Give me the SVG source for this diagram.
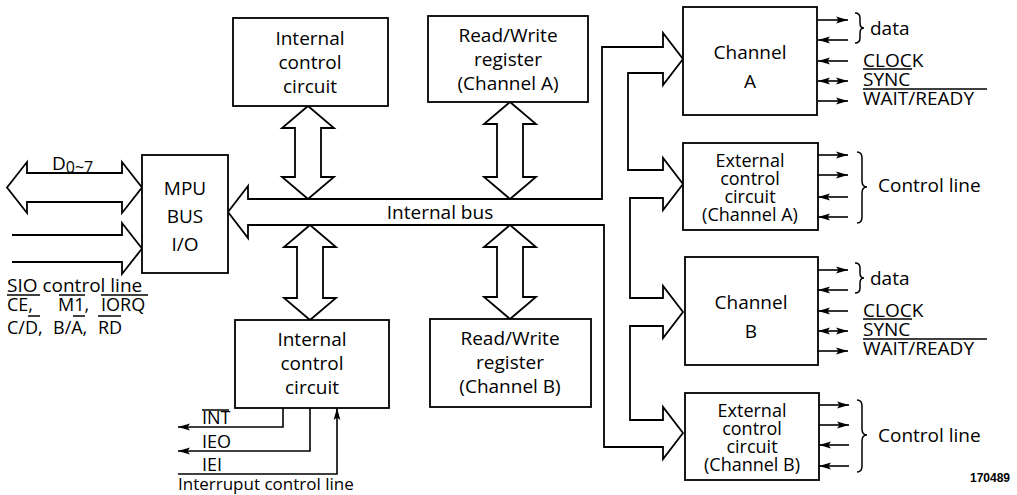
<svg xmlns="http://www.w3.org/2000/svg" width="1017" height="495" viewBox="0 0 1017 495">
<style>
text{font-family:"Open Sans","DejaVu Sans",sans-serif;font-size:19px;fill:#000}
.c{text-anchor:middle}
.s{font-size:18px}
.box{fill:#fff;stroke:#000;stroke-width:1.8}
.hol{fill:#fff;stroke:#000;stroke-width:1.8;stroke-linejoin:miter}
.ln{fill:none;stroke:#000;stroke-width:1.6}
.ol{stroke:#000;stroke-width:1.5}
.br{fill:none;stroke:#000;stroke-width:1.5}
</style>
<defs>
<marker id="ah" viewBox="0 0 12 8" refX="12" refY="4" markerWidth="12" markerHeight="8" markerUnits="userSpaceOnUse" orient="auto-start-reverse"><path d="M0,0.6 L12,4 L0,7.4 L2.5,4 Z" fill="#000"/></marker>
</defs>

<g id="connectors">
  <path class="hol" d="M248,186 L228,212 L248,238 L248,225 L604,225 L604,447 L663,447 L663,459 L683,433 L663,407 L663,420 L630,420 L630,326 L663,326 L663,338 L683,312 L663,286 L663,298 L630,298 L630,198 L663,198 L663,210 L683,184 L663,158 L663,170 L628,170 L628,73 L663,73 L663,85 L683,59 L663,33 L663,47 L602,47 L602,199 L248,199 Z"/>
  <text x="440" y="219" class="c">Internal bus</text>
  <path class="hol" d="M308,106 L334,128 L321,128 L321,177 L334,177 L308,199 L282,177 L295,177 L295,128 L282,128 Z"/>
  <path class="hol" d="M510,102 L536,124 L523,124 L523,177 L536,177 L510,199 L484,177 L497,177 L497,124 L484,124 Z"/>
  <path class="hol" d="M310,225 L336,247 L323,247 L323,298 L336,298 L310,320 L284,298 L297,298 L297,247 L284,247 Z"/>
  <path class="hol" d="M510,225 L536,247 L523,247 L523,297 L536,297 L510,319 L484,297 L497,297 L497,247 L484,247 Z"/>
  <path class="hol" d="M7,187.5 L27,162 L27,173 L122,173 L122,162 L142,187.5 L122,213 L122,202 L27,202 L27,213 Z"/>
  <path class="hol" d="M12,235 L122,235 L122,223 L142,248.5 L122,274 L122,262 L12,262"/>
  <path class="ln" d="M283,408 L283,427 L178,427" marker-end="url(#ah)"/>
  <path class="ln" d="M310,408 L310,451 L178,451" marker-end="url(#ah)"/>
  <path class="ln" d="M178,474 L337,474 L337,408" marker-end="url(#ah)"/>
  <line class="ln" x1="818" y1="20" x2="848" y2="20" marker-end="url(#ah)"/>
  <line class="ln" x1="848" y1="40" x2="818" y2="40" marker-end="url(#ah)"/>
  <line class="ln" x1="848" y1="61" x2="818" y2="61" marker-end="url(#ah)"/>
  <line class="ln" x1="818" y1="81" x2="848" y2="81" marker-start="url(#ah)" marker-end="url(#ah)"/>
  <line class="ln" x1="818" y1="101" x2="848" y2="101" marker-end="url(#ah)"/>
  <line class="ln" x1="818" y1="155" x2="848" y2="155" marker-end="url(#ah)"/>
  <line class="ln" x1="818" y1="175" x2="848" y2="175" marker-end="url(#ah)"/>
  <line class="ln" x1="848" y1="197" x2="818" y2="197" marker-end="url(#ah)"/>
  <line class="ln" x1="848" y1="217" x2="818" y2="217" marker-end="url(#ah)"/>
  <line class="ln" x1="818" y1="270" x2="848" y2="270" marker-end="url(#ah)"/>
  <line class="ln" x1="848" y1="290" x2="818" y2="290" marker-end="url(#ah)"/>
  <line class="ln" x1="848" y1="311" x2="818" y2="311" marker-end="url(#ah)"/>
  <line class="ln" x1="818" y1="331" x2="848" y2="331" marker-start="url(#ah)" marker-end="url(#ah)"/>
  <line class="ln" x1="818" y1="351" x2="848" y2="351" marker-end="url(#ah)"/>
  <line class="ln" x1="819" y1="405" x2="849" y2="405" marker-end="url(#ah)"/>
  <line class="ln" x1="819" y1="425" x2="849" y2="425" marker-end="url(#ah)"/>
  <line class="ln" x1="849" y1="445" x2="819" y2="445" marker-end="url(#ah)"/>
  <line class="ln" x1="849" y1="466" x2="819" y2="466" marker-end="url(#ah)"/>
  <path class="br" d="M855,13 q5,0 5,5 L860,23 q0,5 4,5 q-4,0 -4,5 L860,38 q0,5 -5,5"/>
  <path class="br" d="M855,263 q5,0 5,5 L860,273 q0,5 4,5 q-4,0 -4,5 L860,288 q0,5 -5,5"/>
  <path class="br" d="M857,152 q5,0 5,6 L862,181 q0,6 5,6 q-5,0 -5,6 L862,217 q0,6 -5,6"/>
  <path class="br" d="M857,400 q5,0 5,6 L862,429 q0,6 5,6 q-5,0 -5,6 L862,466 q0,6 -5,6"/>
</g>

<g id="mpu-bus-io">
  <rect class="box" x="142" y="155" width="86" height="118"/>
  <text x="185" y="195" class="c">MPU</text>
  <text x="185" y="223" class="c">BUS</text>
  <text x="185" y="251" class="c">I/O</text>
</g>

<g id="data-label">
  <text x="52" y="170">D<tspan font-size="16" dy="3">0~7</tspan></text>
</g>

<g id="sio-label">
  <text x="7" y="292">SIO control line</text>
  <text x="7" y="311" class="s">CE,</text>
  <text x="58" y="311" class="s">M1,</text>
  <text x="101" y="311" class="s">IORQ</text>
  <text x="7" y="334" class="s">C/D,</text>
  <text x="53" y="334" class="s">B/A,</text>
  <text x="98" y="334" class="s">RD</text>
  <line class="ol" x1="7" y1="295" x2="40" y2="295"/>
  <line class="ol" x1="59" y1="295" x2="85" y2="295"/>
  <line class="ol" x1="101" y1="295" x2="148" y2="295"/>
  <line class="ol" x1="28" y1="316" x2="40" y2="316"/>
  <line class="ol" x1="73" y1="316" x2="85" y2="316"/>
  <line class="ol" x1="98" y1="316" x2="121" y2="316"/>
</g>

<g id="internal-control-top">
  <rect class="box" x="233" y="18" width="155" height="88"/>
  <text x="310" y="45" class="c">Internal</text>
  <text x="310" y="69" class="c">control</text>
  <text x="310" y="93" class="c">circuit</text>
</g>

<g id="rw-register-a">
  <rect class="box" x="428" y="16" width="160" height="86"/>
  <text x="508" y="42" class="c">Read/Write</text>
  <text x="508" y="66" class="c">register</text>
  <text x="508" y="90" class="c">(Channel A)</text>
</g>

<g id="internal-control-bottom">
  <rect class="box" x="235" y="320" width="154" height="88"/>
  <text x="312" y="346" class="c">Internal</text>
  <text x="312" y="370" class="c">control</text>
  <text x="312" y="394" class="c">circuit</text>
</g>

<g id="rw-register-b">
  <rect class="box" x="430" y="319" width="161" height="88"/>
  <text x="510" y="345" class="c">Read/Write</text>
  <text x="510" y="369" class="c">register</text>
  <text x="510" y="393" class="c">(Channel B)</text>
</g>

<g id="interrupt-labels">
  <text x="202" y="424" class="s">INT</text>
  <line class="ol" x1="202" y1="410" x2="229" y2="410"/>
  <text x="202" y="448" class="s">IEO</text>
  <text x="202" y="471" class="s">IEI</text>
  <text x="178" y="490" style="font-size:17px">Interruput control line</text>
</g>

<g id="channel-a">
  <rect class="box" x="683" y="7" width="134" height="108"/>
  <text x="750" y="59" class="c">Channel</text>
  <text x="750" y="88" class="c">A</text>
</g>

<g id="channel-a-signals">
  <text x="870" y="35">data</text>
  <text x="863" y="67">CLOCK</text>
  <text x="863" y="86">SYNC</text>
  <line class="ol" x1="863" y1="69" x2="912" y2="69"/>
  <text x="863" y="105">WAIT/READY</text>
  <line class="ol" x1="863" y1="89" x2="987" y2="89"/>
</g>

<g id="ext-control-a">
  <rect class="box" x="683" y="143" width="135" height="87"/>
  <text x="750" y="167" class="c s">External</text>
  <text x="750" y="185" class="c s">control</text>
  <text x="750" y="203" class="c s">circuit</text>
  <text x="750" y="221" class="c s">(Channel A)</text>
  <text x="878" y="192">Control line</text>
</g>

<g id="channel-b">
  <rect class="box" x="685" y="257" width="133" height="108"/>
  <text x="751" y="309" class="c">Channel</text>
  <text x="751" y="338" class="c">B</text>
</g>

<g id="channel-b-signals">
  <text x="870" y="285">data</text>
  <text x="863" y="317">CLOCK</text>
  <text x="863" y="336">SYNC</text>
  <line class="ol" x1="863" y1="319" x2="912" y2="319"/>
  <text x="863" y="355">WAIT/READY</text>
  <line class="ol" x1="863" y1="339" x2="987" y2="339"/>
</g>

<g id="ext-control-b">
  <rect class="box" x="685" y="393" width="134" height="87"/>
  <text x="752" y="417" class="c s">External</text>
  <text x="752" y="435" class="c s">control</text>
  <text x="752" y="453" class="c s">circuit</text>
  <text x="752" y="471" class="c s">(Channel B)</text>
  <text x="878" y="442">Control line</text>
</g>

<text x="1010" y="482" text-anchor="end" style="font-family:'Liberation Sans',Arial,sans-serif;font-size:12px;font-weight:bold">170489</text>
</svg>
